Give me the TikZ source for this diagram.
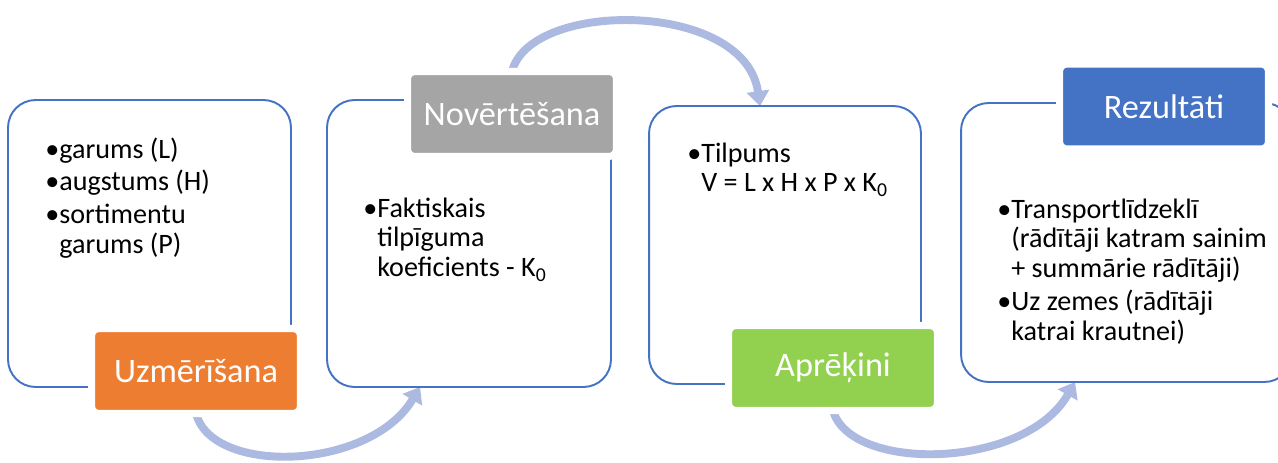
\documentclass[tikz,border=0pt]{standalone}
\usepackage{fontspec}
\setmainfont{Carlito}
\usetikzlibrary{arrows.meta}
\usetikzlibrary{backgrounds}

\definecolor{boxblue}{RGB}{68,114,196}
\definecolor{taborange}{RGB}{237,125,49}
\definecolor{tabgray}{RGB}{165,165,165}
\definecolor{tabgreen}{RGB}{146,208,80}
\definecolor{arcblue}{RGB}{172,185,224}

\tikzset{
  stage/.style={draw=boxblue, line width=1.1pt, rounded corners=0.55cm, inner sep=0, outer sep=0},
  tab/.style={draw=white, line width=4pt, rounded corners=0.15cm, text=white, minimum width=4.18cm, minimum height=1.70cm, inner sep=0, outer sep=0, font=\fontsize{19.5}{22}\selectfont},
  items/.style={anchor=base west, inner sep=0, font=\fontsize{16}{17}\selectfont},
  turnarrow/.style={draw=arcblue, line width=4.5pt, -{Triangle[width=12.5pt,length=8.5pt]}}
}

\begin{document}
\begin{tikzpicture}[x=0.02cm,y=-0.02cm]
\useasboundingbox (0,0) rectangle (1278,463);
\clip (0,0) rectangle (1278,463);

\node[stage, minimum width=5.66cm, minimum height=5.74cm] (box1) at (149.5,243.5) {};
\node[stage, minimum width=5.68cm, minimum height=5.74cm] (box2) at (469,243.5) {};
\node[stage, minimum width=5.44cm, minimum height=5.56cm] (box3) at (785,245) {};
\node[stage, minimum width=6.62cm, minimum height=5.58cm] (box4) at (1126.5,242.5) {};

\node[items] (list1) at (45,158) {\begin{tabular}[t]{@{}l@{}}•garums (L)\\[1.7pt]•augstums (H)\\[1.7pt]•sortimentu\\\phantom{•}garums (P)\end{tabular}};
\node[items] (list2) at (363,217) {\begin{tabular}[t]{@{}l@{}}•Faktiskais\\\phantom{•}tilpīguma\\\phantom{•}koeficients - K\textsubscript{0}\end{tabular}};
\node[items] (list3) at (687,162) {\begin{tabular}[t]{@{}l@{}}•Tilpums\\\phantom{•}V = L x H x P x K\textsubscript{0}\end{tabular}};
\node[items] (list4) at (997,218) {\begin{tabular}[t]{@{}l@{}}•Transportlīdzeklī\\\phantom{•}(rādītāji katram sainim\\\phantom{•}+ summārie rādītāji)\\[1.7pt]•Uz zemes (rādītāji\\\phantom{•}katrai krautnei)\end{tabular}};

\node[tab, fill=taborange] (tab1) at (196,371) {Uzmērīšana};
\node[tab, fill=tabgray] (tab2) at (512,114) {Novērtēšana};
\node[tab, fill=tabgreen] (tab3) at (833,368) {Aprēķini};
\node[tab, fill=boxblue] (tab4) at (1164,106.5) {Rezultāti};

\begin{scope}[on background layer]
\draw[turnarrow] (tab1.south) .. controls +(16,62) and +(-50,84) .. ([xshift=-0.98cm]box2.south);
\draw[turnarrow] (tab2.north) .. controls +(18,-72) and +(-15,-106) .. ([xshift=-0.5cm]box3.north);
\draw[turnarrow] (tab3.south) .. controls +(17,62) and +(-50,88) .. ([xshift=-1.03cm]box4.south);
\end{scope}
\end{tikzpicture}
\end{document}
